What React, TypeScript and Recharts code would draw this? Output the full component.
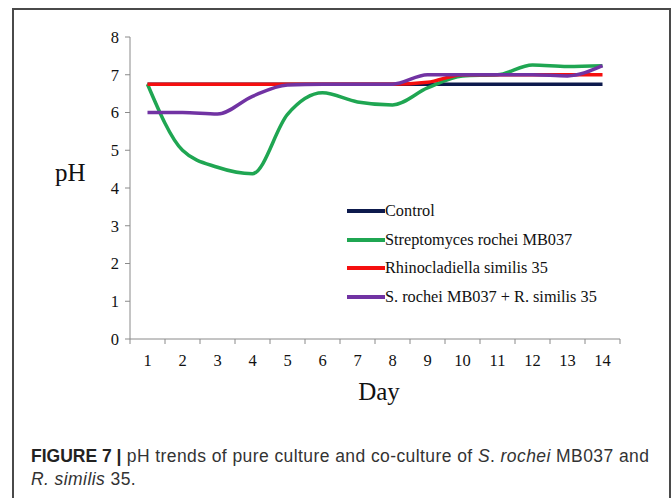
import { LineChart, Line, XAxis, YAxis, Legend } from "recharts";

const days = [1, 2, 3, 4, 5, 6, 7, 8, 9, 10, 11, 12, 13, 14];
const dayEdges = [0.5, 1.5, 2.5, 3.5, 4.5, 5.5, 6.5, 7.5, 8.5, 9.5, 10.5, 11.5, 12.5, 13.5, 14.5];
const phTicks = [0, 1, 2, 3, 4, 5, 6, 7, 8];

const control = [6.75, 6.75, 6.75, 6.75, 6.75, 6.75, 6.75, 6.75, 6.75, 6.75, 6.75, 6.75, 6.75, 6.75];
const streptomyces = [6.75, 5.0, 4.55, 4.38, 5.95, 6.52, 6.28, 6.2, 6.65, 6.97, 7.0, 7.26, 7.22, 7.24];
const rhinocladiella = [6.75, 6.75, 6.75, 6.75, 6.75, 6.75, 6.75, 6.75, 6.8, 7.0, 7.0, 7.0, 7.0, 7.0];
const coCulture = [6.0, 6.0, 5.96, 6.43, 6.73, 6.75, 6.75, 6.75, 7.0, 7.0, 7.0, 7.0, 6.97, 7.24];

const data = days.map((day, i) => ({
  day,
  control: control[i],
  strep: streptomyces[i],
  rhino: rhinocladiella[i],
  co: coCulture[i],
}));

const serif = '"Liberation Serif", "Times New Roman", serif';
const axisGray = "#8a8a8a";

function LegendBox({ payload }: any) {
  return (
    <div style={{ fontFamily: serif, fontSize: 16.3, color: "#111" }}>
      {(payload || []).map((p: any) => (
        <div key={p.value} style={{ display: "flex", alignItems: "center", height: 28.5 }}>
          <span style={{ width: 38, height: 4, background: p.color, display: "inline-block" }} />
          <span>{p.value}</span>
        </div>
      ))}
    </div>
  );
}

export default function App() {
  return (
    <div style={{ position: "absolute", left: 0, top: 0, width: 672, height: 498, background: "#fff", overflow: "hidden" }}>
      <div
        style={{
          position: "absolute", left: 12, top: 8, width: 655, height: 520,
          border: "2px solid #4a4a4a", borderBottom: "none",
        }}
      />
      <div style={{ position: "absolute", left: 0, top: 0 }}>
        <LineChart width={672} height={420} data={data} margin={{ top: 37, right: 52, left: 0, bottom: 0 }}>
          <XAxis
            xAxisId="a"
            dataKey="day"
            type="number"
            domain={[0.5, 14.5]}
            ticks={dayEdges}
            interval={0}
            height={1}
            tickFormatter={() => ""}
            tickSize={5}
            tickLine={{ stroke: axisGray }}
            axisLine={{ stroke: axisGray }}
          />
          <XAxis
            xAxisId="b"
            dataKey="day"
            type="number"
            domain={[0.5, 14.5]}
            ticks={days}
            interval={0}
            height={80}
            axisLine={false}
            tickLine={false}
            tickMargin={8}
            tick={{ fontFamily: serif, fontSize: 16.5, fill: "#111" }}
            label={{ value: "Day", position: "insideBottom", offset: 20, dx: 4, style: { fontFamily: serif, fontSize: 25, fill: "#111" } }}
          />
          <YAxis
            domain={[0, 8]}
            ticks={phTicks}
            width={130}
            tickSize={5}
            tickMargin={6}
            stroke={axisGray}
            tick={{ fontFamily: serif, fontSize: 16.5, fill: "#111" }}
            label={{ value: "pH", position: "insideLeft", offset: 55, dy: -16, style: { fontFamily: serif, fontSize: 25, fill: "#111", textAnchor: "start" } }}
          />
          <Legend
            layout="vertical"
            align="center"
            verticalAlign="middle"
            itemSorter={null as any}
            wrapperStyle={{ left: 347, top: 197, width: 300 }}
            content={<LegendBox />}
          />
          <Line xAxisId="b" type="monotone" dataKey="control" name="Control" stroke="#0d1a4d" strokeWidth={3.5} dot={false} isAnimationActive={false} />
          <Line xAxisId="b" type="monotone" dataKey="strep" name="Streptomyces rochei MB037" stroke="#1fa652" strokeWidth={3.5} dot={false} isAnimationActive={false} />
          <Line xAxisId="b" type="monotone" dataKey="rhino" name="Rhinocladiella similis 35" stroke="#f50f0f" strokeWidth={3.5} dot={false} isAnimationActive={false} />
          <Line xAxisId="b" type="monotone" dataKey="co" name="S. rochei MB037 + R. similis 35" stroke="#7133a3" strokeWidth={3.5} dot={false} isAnimationActive={false} />
        </LineChart>
      </div>
      <div
        style={{
          position: "absolute", left: 31, top: 445, width: 636,
          fontFamily: '"Liberation Sans", Arial, sans-serif', fontSize: 17.5, lineHeight: "23px", color: "#333",
          letterSpacing: 0.42,
        }}
      >
        <b style={{ color: "#222", letterSpacing: 0 }}>FIGURE 7 |</b> pH trends of pure culture and co-culture of <i>S</i>. <i>rochei</i> MB037 and{" "}
        <i>R. similis</i> 35.
      </div>
    </div>
  );
}
